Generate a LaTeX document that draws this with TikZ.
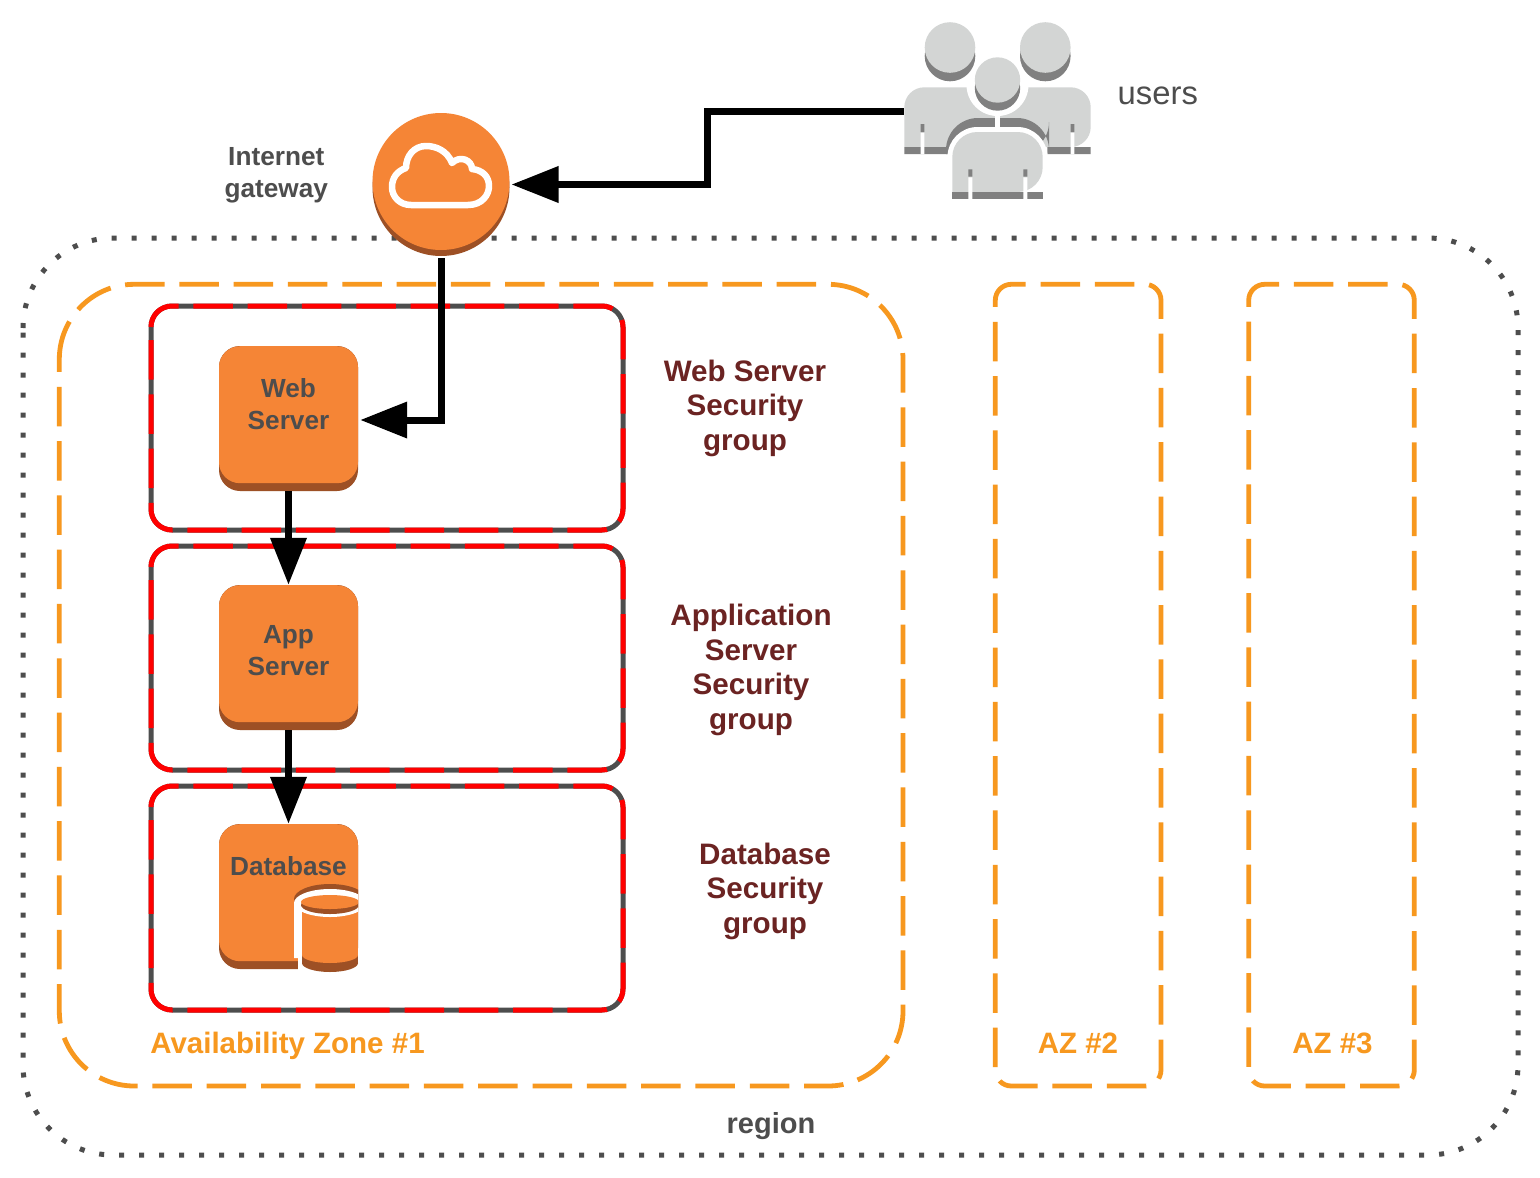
\documentclass[tikz,border=0pt]{standalone}
\usepackage{fontspec}
\setmainfont{Liberation Sans}
\usetikzlibrary{positioning,arrows.meta}
\definecolor{awsorange}{HTML}{F58536}
\definecolor{awsbrown}{HTML}{9D5025}
\definecolor{azorange}{HTML}{F7981F}
\definecolor{sgred}{HTML}{FF0000}
\definecolor{darkgrey}{HTML}{4D4D4D}
\definecolor{sgtext}{HTML}{6B2322}
\definecolor{userlight}{HTML}{D3D5D4}
\definecolor{userdark}{HTML}{808080}
% style, left, top, right, bottom, radius
\newcommand{\drawframe}[6]{\draw[#1, rounded corners=#6pt] (#2,#3+#6) -- (#2,#3) -- (#4,#3) -- (#4,#5) -- (#2,#5) -- (#2,#3+#6);}
\begin{document}
\begin{tikzpicture}[x=1pt,y=-1pt]
	\tikzstyle{connect}=[-{Triangle[length=47pt,width=35pt]}, line width=7pt, black]
	\tikzstyle{region}=[draw=darkgrey, line width=5pt, dash pattern=on 5pt off 15pt]
	\tikzstyle{azbox}=[draw=azorange, line width=4.8pt, dash pattern=on 39.5pt off 14.8pt]
	\tikzstyle{sgbase}=[draw=darkgrey, line width=5pt]
	\tikzstyle{sgdash}=[draw=sgred, line width=5pt, dash pattern=on 39.5pt off 14.8pt]
	\tikzstyle{server}=[rectangle, rounded corners=21pt, fill=awsbrown, minimum width=139pt, minimum height=145pt, inner sep=0pt]
	\tikzstyle{servertop}=[rectangle, rounded corners=21pt, fill=awsorange, minimum width=139pt, minimum height=137pt, inner sep=0pt]
	\tikzstyle{srvtext}=[align=center, text=darkgrey, font=\bfseries\fontsize{26.2}{32}\selectfont]
	\tikzstyle{sgtext}=[align=center, text=sgtext, font=\bfseries\fontsize{29.6}{34.5}\selectfont]
	\tikzstyle{aztext}=[text=azorange, font=\bfseries\fontsize{29.5}{34}\selectfont]
	\useasboundingbox (0,0) rectangle (1540,1178);
	\fill[white] (0,0) rectangle (1540,1178);

	% boxes
	\drawframe{region}{23}{238}{1518}{1155}{90}
	\drawframe{azbox}{59.3}{284.3}{903}{1086}{75}
	\drawframe{azbox}{995.3}{284.3}{1161}{1086}{16}
	\drawframe{azbox}{1248.7}{284.3}{1414.3}{1086}{16}
	\drawframe{sgbase}{151}{306}{623}{530}{21}
	\drawframe{sgdash}{151}{306}{623}{530}{21}
	\drawframe{sgbase}{151}{546}{623}{770}{21}
	\drawframe{sgdash}{151}{546}{623}{770}{21}
	\drawframe{sgbase}{151}{786}{623}{1010}{21}
	\drawframe{sgdash}{151}{786}{623}{1010}{21}

	% internet gateway
	\node[minimum width=137pt, minimum height=143pt, inner sep=0pt, outer sep=2pt] (igw) at (441,184.5) {};
	\fill[awsbrown] (441,187.5) circle (68.5);
	\fill[awsorange] (441,181.5) circle (68.5);
	\draw[white, line width=6.5pt, line join=round] (419,205) -- (468,205)
		.. controls (482,205) and (489,195) .. (489,186)
		.. controls (489,176) and (482,170) .. (472,169)
		.. controls (472,160) and (460,155) .. (452,163)
		.. controls (447,150) and (435,146) .. (426,146)
		.. controls (414,146) and (406,156) .. (406,168)
		.. controls (397,171) and (392,178) .. (392,187)
		.. controls (392,197) and (400,205) .. (411,205) -- cycle;
	\node[srvtext, left=39pt of igw, yshift=9pt] (igwlabel) {Internet\\gateway};

	% users
	\node[minimum width=187pt, minimum height=178pt, inner sep=0pt] (users) at (997.5,111) {};
	\fill[userlight] (904.3,147) [rounded corners=20pt] -- (904.3,87.3) -- (1090.7,87.3) -- (1090.7,147) [sharp corners] -- cycle;
	\fill[userdark] (904.3,147) rectangle (947.7,154) (1047.3,147) rectangle (1090.7,154);
	\fill[white] (920.7,132.5) rectangle (924.3,154) (1070.7,132.5) rectangle (1074.3,154);
	\fill[userdark] (920.7,124) rectangle (924.3,132) (1070.7,124) rectangle (1074.3,132);
	\fill[white] (997.5,85) circle (31);
	\fill[userdark] (946,154) [rounded corners=32pt] -- (946,118) -- (1049,118) -- (1049,154) [sharp corners] -- cycle;
	\fill[white] (947.5,200) [rounded corners=30pt] -- (947.5,127) -- (1047.5,127) -- (1047.5,200) [sharp corners] -- cycle;
	\fill[white] (995,112) rectangle (1000,127);
	\fill[userlight] (952.3,192) [rounded corners=25pt] -- (952.3,132) -- (1042.7,132) -- (1042.7,192) [sharp corners] -- cycle;
	\fill[userdark] (952.3,192) rectangle (1042.7,199.3);
	\fill[white] (968.3,177.3) rectangle (972.3,199.6) (1023.3,177.3) rectangle (1027.3,199.6);
	\fill[userdark] (968.3,169.3) rectangle (972.3,176.7) (1023.3,169.3) rectangle (1027.3,176.7);
	\fill[userdark] (950,56) circle (25.3) (1045.3,56) circle (25.3);
	\fill[userlight] (950,47.5) circle (25.3) (1045.3,47.5) circle (25.3);
	\fill[userdark] (997.5,88) circle (22.7);
	\fill[userlight] (997.5,80) circle (22.7);
	\node[text=darkgrey, font=\fontsize{32.8}{36}\selectfont, right=23pt of users, yshift=15pt] (userslabel) {users};

	% servers
	\node[server] (web) at (288.5,418.5) {};
	\node[servertop, anchor=north] (webtop) at (288.5,346) {};
	\node[srvtext] (weblabel) at (288.5,404) {Web\\Server};
	\node[server] (app) at (288.5,657.5) {};
	\node[servertop, anchor=north] (apptop) at (288.5,585) {};
	\node[srvtext] (applabel) at (288.5,651) {App\\Server};
	\node[server] (db) at (288.5,896.5) {};
	\node[servertop, anchor=north] (dbtop) at (288.5,824) {};
	\node[srvtext] (dblabel) at (288.5,866) {Database};
	\begin{scope}
		\clip (219,824) rectangle (358,980);
		\fill[awsbrown] (330,899) ellipse (36 and 15);
		\fill[white] (298,903) rectangle (358,980) (294,903) rectangle (298,958);
		\fill[awsbrown] (302,925) rectangle (358,963);
		\fill[awsbrown] (330,963) ellipse (28 and 9);
		\fill[awsorange] (302,910) rectangle (358,955);
		\fill[awsorange] (330,955) ellipse (28 and 8);
		\fill[white] (330,903) ellipse (36 and 14);
		\fill[awsbrown] (330,905) ellipse (29 and 9);
		\fill[awsorange] (330,902) ellipse (29 and 7);
	\end{scope}

	% labels
	\node[sgtext] (sgweblabel) at (745,408) {Web Server\\Security\\group};
	\node[sgtext] (sgapplabel) at (751,670) {Application\\Server\\Security\\group};
	\node[sgtext] (sgdblabel) at (765,891) {Database\\Security\\group};
	\node[aztext] (az1label) at (287.5,1046) {Availability Zone \#1};
	\node[aztext] (az2label) at (1078,1043) {AZ \#2};
	\node[aztext] (az3label) at (1332.5,1043) {AZ \#3};
	\node[srvtext, font=\bfseries\fontsize{29}{34}\selectfont] (reglabel) at (771,1126) {region};

	% connectors
	\coordinate (usersbend) at (707,111);
	\coordinate (igwbend) at (441,420);
	\draw[connect] (users.west) -- (usersbend) |- (igw.east);
	\draw[connect, shorten >=2pt] (igw.south) -- (igwbend) -- (web.east |- igwbend);
	\path (web) edge [connect] (app)
		(app) edge [connect] (db);
\end{tikzpicture}
\end{document}
